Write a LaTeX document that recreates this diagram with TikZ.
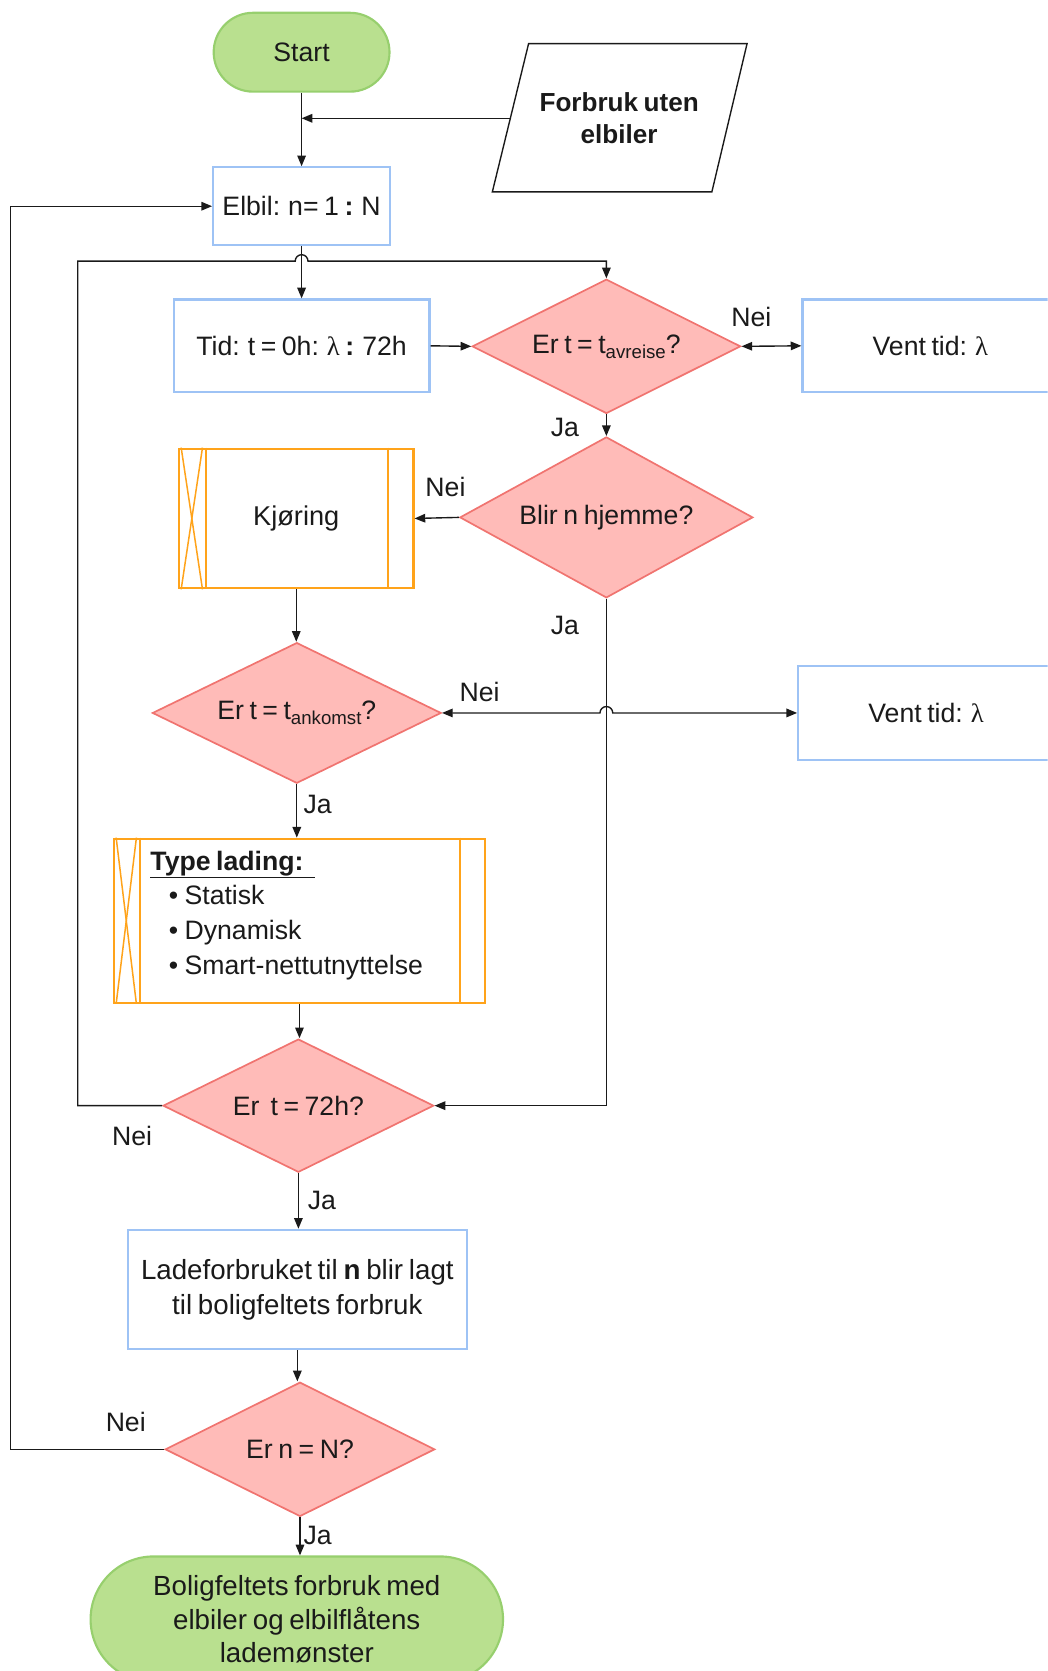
\documentclass[tikz,border=0pt]{standalone}
\usepackage{fontspec}
\setmainfont{Liberation Sans}[WordSpace=0.75]
\newfontfamily\greekserif{Liberation Serif}
\usetikzlibrary{shapes.geometric,arrows.meta,calc}

\definecolor{ink}{HTML}{1A1A1A}
\definecolor{termfill}{HTML}{B9E08F}
\definecolor{termline}{HTML}{97CF6E}
\definecolor{boxblue}{HTML}{9EC3F5}
\definecolor{decfill}{HTML}{FFBBB8}
\definecolor{decline}{HTML}{F07470}
\definecolor{subline}{HTML}{FFA31A}

\newcommand\lmbd{{\greekserif λ}}
\newcommand\subtxt[1]{\raisebox{-0.35ex}{\fontsize{17.5}{17.5}\selectfont #1}}

\begin{document}
\begin{tikzpicture}[x=1pt,y=-1pt,
  every node/.style={font=\fontsize{25}{29}\selectfont, text=ink},
  term/.style={rectangle, rounded corners=#1, fill=termfill, draw=termline, line width=2pt, inner sep=0pt},
  proc/.style={rectangle, draw=boxblue, line width=2pt, fill=white, inner sep=0pt},
  decision/.style={diamond, shape aspect=2, fill=decfill, draw=decline, line width=1.6pt, inner sep=0pt},
  subproc/.style={rectangle, draw=subline, line width=2pt, fill=white, inner sep=0pt},
  subin/.style={draw=subline, line width=2pt},
  subx/.style={draw=subline, line width=1.4pt},
  conn/.style={draw=ink, line width=1.3pt},
  tip/.tip={Triangle[length=10pt,width=8pt]},
  arr/.style={conn, -tip},
  dbl/.style={conn, tip-tip},
  lbl/.style={inner sep=0pt}]

\useasboundingbox (0,0) rectangle (983,1568);
\clip (0,0) rectangle (983,1568);

% start and external input
\node[term=37pt, minimum width=165pt, minimum height=74pt] (start) at (283,49) {Start};
\draw[draw=ink, line width=1.3pt] (496,41) -- (701,41) -- (668,180) -- (462,180) -- cycle;
\node[align=center, font=\fontsize{24.5}{30}\selectfont\bfseries] (input) at (581,111) {Forbruk uten\\elbiler};
\coordinate (inputw) at (479,111);
\coordinate (join) at (start.south |- inputw);

% process boxes
\node[proc, minimum width=166pt, minimum height=73pt] (elbil) at (283,193.5) {Elbil: n= 1 \textbf{:} N};
\node[proc, minimum width=240pt, minimum height=87pt] (tid) at (283,324.5) {Tid: t = 0h: \lmbd\ \textbf{:} 72h};
\node[proc, minimum width=240pt, minimum height=87pt] (vent1) at (873,324.5) {Vent tid: \lmbd};
\node[proc, minimum width=240pt, minimum height=88pt] (vent2) at (869,669) {Vent tid: \lmbd};
\node[proc, minimum width=318pt, minimum height=112pt, align=center, font=\fontsize{26}{33}\selectfont] (lade) at (279,1210) {Ladeforbruket til \textbf{n} blir lagt\\til boligfeltets forbruk};

% decisions
\node[decision, minimum width=252pt, minimum height=126pt] (d1) at (569,325) {Er t = t\subtxt{avreise}?};
\node[decision, minimum width=275pt, minimum height=151pt] (d2) at (569,485.5) {Blir n hjemme?};
\node[decision, minimum width=271pt, minimum height=132pt] (d3) at (278.5,669) {Er t = t\subtxt{ankomst}?};
\node[decision, minimum width=254pt, minimum height=125pt] (d4) at (280,1037.5) {Er\ \ t = 72h?};
\node[decision, minimum width=253pt, minimum height=126pt] (d5) at (281.5,1360) {Er n = N?};

% predefined processes
\node[subproc, minimum width=220pt, minimum height=131pt, font=\fontsize{25.5}{29}\selectfont] (kj) at (278,486.5) {Kjøring};
\draw[subin] ([xshift=26pt]kj.north west) -- ([xshift=26pt]kj.south west);
\draw[subin] ([xshift=-25pt]kj.north east) -- ([xshift=-25pt]kj.south east);
\draw[subx] ([xshift=3pt]kj.north west) -- ([xshift=23pt]kj.south west);
\draw[subx] ([xshift=23pt]kj.north west) -- ([xshift=3pt]kj.south west);

\node[subproc, minimum width=348pt, minimum height=154pt] (tl) at (281,864) {};
\draw[subin] ([xshift=25pt]tl.north west) -- ([xshift=25pt]tl.south west);
\draw[subin] ([xshift=-24pt]tl.north east) -- ([xshift=-24pt]tl.south east);
\draw[subx] ([xshift=3pt]tl.north west) -- ([xshift=22pt]tl.south west);
\draw[subx] ([xshift=22pt]tl.north west) -- ([xshift=3pt]tl.south west);
\node[anchor=west, align=left, inner sep=0pt, font=\fontsize{25}{32.7}\selectfont] (tltext) at (141,859) {%
  \underline{\textbf{Type lading:}\ \ }\\
  \makebox[32pt][r]{\textbullet\hspace{6pt}}Statisk\\
  \makebox[32pt][r]{\textbullet\hspace{6pt}}Dynamisk\\
  \makebox[32pt][r]{\textbullet\hspace{6pt}}Smart-nettutnyttelse};

% end
\node[term=59pt, minimum width=387pt, minimum height=118pt, align=center, font=\fontsize{26}{31.5}\selectfont] (end) at (278.5,1519.5) {Boligfeltets forbruk med\\elbiler og elbilflåtens\\lademønster};

% connectors
\coordinate (loopA) at (73,245);
\coordinate (loopB) at (10,0);
\draw[arr] (start.south) -- (elbil.north);
\draw[arr] (inputw) -- (join);
\draw[arr] (elbil.south) -- (tid.north);
\draw[arr] (tid.east) -- (d1.west);
\draw[dbl] (d1.east) -- (vent1.west);
\draw[arr] (d1.south) -- (d2.north);
\draw[arr] (d2.west) -- (kj.east);
\draw[arr] (kj.south) -- (kj.south |- d3.north);
\draw[dbl] (d3.east) -- ([xshift=-6pt]d2.south |- d3.east) arc[start angle=180, end angle=0, radius=6pt] -- (vent2.west);
\draw[arr] (d3.south) -- (d3.south |- tl.north);
\draw[arr] (tl.south) -- (tl.south |- d4.north);
\draw[arr] (d2.south) |- (d4.east);
\draw[arr] (d4.south) -- (d4.south |- lade.north);
\draw[arr] (lade.south) -- (lade.south |- d5.north);
\draw[arr] (d5.south) -- (d5.south |- end.north);
\draw[arr] (d4.west) -| (loopA) -- ([xshift=-6pt]elbil.south |- loopA) arc[start angle=180, end angle=0, radius=6pt] -- (d1.north |- loopA) -- (d1.north);
\draw[arr] (d5.west) -| (loopB |- elbil.west) -- (elbil.west);

% branch labels
\node[lbl] (nei1) at (705,297) {Nei};
\node[lbl] (ja1) at (530,401) {Ja};
\node[lbl] (nei2) at (418,457) {Nei};
\node[lbl] (ja2) at (530,587) {Ja};
\node[lbl] (nei3) at (450,649) {Nei};
\node[lbl] (ja3) at (298,755) {Ja};
\node[lbl] (nei4) at (124,1066) {Nei};
\node[lbl] (ja4) at (302,1126) {Ja};
\node[lbl] (nei5) at (118,1334) {Nei};
\node[lbl] (ja5) at (298,1441) {Ja};
\end{tikzpicture}
\end{document}
